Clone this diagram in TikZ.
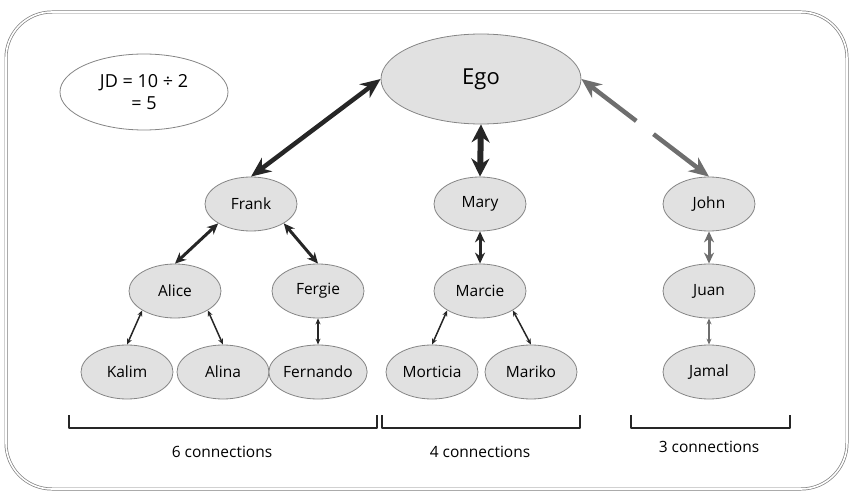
\documentclass[tikz,border=0pt]{standalone}
\usepackage{fontspec}
\setmainfont{Open Sans}
\usetikzlibrary{shapes.geometric,arrows.meta,calc}
\definecolor{nodefill}{HTML}{E1E1E1}
\definecolor{nodeline}{HTML}{858585}
\definecolor{darklink}{HTML}{262626}
\definecolor{greylink}{HTML}{6E6E6E}
\definecolor{framegrey}{HTML}{7E7E7E}

\begin{document}
\begin{tikzpicture}[x=1pt, y=-1pt, line join=round]
        \tikzstyle{every node}=[text=black]
        \tikzstyle{person}=[ellipse, draw=nodeline, line width=0.8pt, fill=nodefill, inner sep=0pt, minimum width=92pt, minimum height=54pt, font=\fontsize{15.5}{18}\selectfont]
        \tikzstyle{tieA}=[line width=4.5pt, {Stealth[length=20pt,width=17pt]}-{Stealth[length=20pt,width=17pt]}]
        \tikzstyle{tieB}=[line width=3pt, {Stealth[length=11pt,width=10pt]}-{Stealth[length=11pt,width=10pt]}]
        \tikzstyle{tieC}=[line width=1.5pt, {Stealth[length=6pt,width=5pt]}-{Stealth[length=6pt,width=5pt]}]
        \tikzstyle{bracket}=[line width=1.4pt, darklink]
        \tikzstyle{count}=[font=\fontsize{15.5}{18}\selectfont]

        \useasboundingbox (0,0) rectangle (851,492);
        \draw [framegrey, line width=0.7pt, double=white, double distance=1.6pt, rounded corners=46pt] (6,12) rectangle (847,489);

        \node [ellipse, draw=nodeline, line width=0.8pt, fill=white, minimum width=168pt, minimum height=76pt, align=center, font=\fontsize{18}{22}\selectfont] (jd) at (144,92) {JD = 10 ÷ 2\\= 5};

        \node [person, minimum width=200pt, minimum height=90pt, font=\fontsize{22}{26}\selectfont] (ego) at (481,79) {Ego};

        \node [person] (frank) at (251,204) {Frank};
        \node [person] (mary) at (480,204) {Mary};
        \node [person] (john) at (709,204) {John};
        \node [person] (alice) at (175,291) {Alice};
        \node [person] (fergie) at (318,291) {Fergie};
        \node [person] (marcie) at (480,291) {Marcie};
        \node [person] (juan) at (709,291) {Juan};
        \node [person] (kalim) at (127,372) {Kalim};
        \node [person] (alina) at (223,372) {Alina};
        \node [person] (fernando) at (318,372) {Fernando};
        \node [person] (morticia) at (432,372) {Morticia};
        \node [person] (mariko) at (531,372) {Mariko};
        \node [person] (jamal) at (709,372) {Jamal};

        \draw [tieA, darklink] (frank.north) -- (ego.west);
        \draw [line width=6pt, darklink, {Stealth[length=18pt,width=18pt]}-{Stealth[length=18pt,width=18pt]}] (ego.south) -- (mary.north);
        \coordinate (gapA) at ($(ego.east)!0.43!(john.north)$);
        \coordinate (gapB) at ($(ego.east)!0.565!(john.north)$);
        \draw [line width=4.5pt, greylink, {Stealth[length=20pt,width=17pt]}-] (ego.east) -- (gapA);
        \draw [line width=4.5pt, greylink, -{Stealth[length=20pt,width=17pt]}] (gapB) -- (john.north);

        \draw [tieB, darklink] (frank.south west) -- (alice.north);
        \draw [tieB, darklink] (frank.south east) -- (fergie.north);
        \draw [tieB, darklink] (mary.south) -- (marcie.north);
        \draw [tieB, greylink] (john.south) -- (juan.north);

        \draw [tieC, darklink] (alice.south west) -- (kalim.north);
        \draw [tieC, darklink] (alice.south east) -- (alina.north);
        \draw [tieC, darklink] (fergie.south) -- (fernando.north);
        \draw [tieC, darklink] (marcie.south west) -- (morticia.north);
        \draw [tieC, darklink] (marcie.south east) -- (mariko.north);
        \draw [tieC, greylink] (juan.south) -- (jamal.north);

        \draw [bracket] (69,415) -- (69,428) -- (377,428) -- (377,415);
        \draw [bracket] (382,415) -- (382,428) -- (580,428) -- (580,415);
        \draw [bracket] (631,415) -- (631,428) -- (790,428) -- (790,415);
        \node [count] (six) at (222,452) {6 connections};
        \node [count] (four) at (480,452) {4 connections};
        \node [count] (three) at (709,447) {3 connections};
    \end{tikzpicture}
\end{document}
